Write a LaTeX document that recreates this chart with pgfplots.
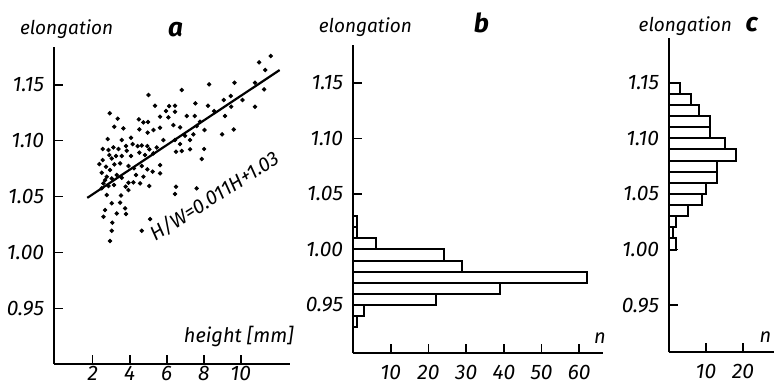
\documentclass[border=0pt]{standalone}
\usepackage{fontspec}
\setmainfont{Fira Sans}
\usepackage{pgfplots}
\pgfplotsset{compat=1.18}

\pgfplotsset{
  panel/.style={
    scale only axis,
    axis lines=left,
    axis line style={-, line width=1pt},
    tick align=inside,
    major tick length=4.5pt,
    every tick/.style={black, line width=0.8pt},
    tick label style={font=\fontsize{10.5}{12}\selectfont\itshape},
    yticklabel style={xshift=-1.5pt},
    clip=false,
    anchor=south west,
    ytick={0.95,1.00,1.05,1.10,1.15},
    yticklabels={0.95,1.00,1.05,1.10,1.15},
    every axis title/.style={font=\fontsize{13}{15}\selectfont\bfseries\itshape, anchor=base},
  },
  hbar/.style={xbar, bar width=0.01, bar shift=0pt, fill=white, draw=black, line width=1pt},
}

\begin{document}
\begin{tikzpicture}
\path[use as bounding box] (0,0) rectangle (387pt,192.5pt);
\clip (0,0) rectangle (387pt,192.5pt);

% ---------------- panel a ----------------
\begin{axis}[panel, at={(27pt,10.5pt)}, width=118pt, height=158.65pt,
  xmin=-0.09, xmax=12.66, ymin=0.9002, ymax=1.184,
  xtick={2,4,6,8,10}, xticklabels={2,4,6,8,10},
  xticklabel style={inner sep=1pt},
  xlabel={height [mm]}, ylabel={elongation}, title={a},
  every axis x label/.style={at={(axis description cs:1.045,0.069)}, anchor=base east, font=\fontsize{10}{12}\selectfont\itshape},
  every axis y label/.style={at={(axis description cs:-0.174,1.039)}, anchor=base west, font=\fontsize{9.5}{11}\selectfont\itshape},
  title style={at={(axis description cs:0.515,1.031)}},
]
\addplot[only marks, mark=*, mark size=0.9pt, black] coordinates {
(10.99,1.170) (11.62,1.1756) (11.32,1.1631) (10.77,1.1518) (11.26,1.1458)
(10.77,1.1303) (9.66,1.1518) (10.09,1.1363) (8.29,1.1503) (9.08,1.1363)
(9.46,1.1399) (9.48,1.1303) (8.99,1.1056) (9.62,1.1100) (9.15,1.1220)
(8.04,1.1095) (8.56,1.1264) (8.23,1.1312) (7.55,1.1333) (7.08,1.1220)
(7.51,1.1220) (7.80,1.1169) (7.62,1.1130) (6.81,1.1452) (5.01,1.1408)
(5.37,1.1312) (6.13,1.1309) (6.45,1.1312) (5.96,1.1264) (6.45,1.1258)
(5.64,1.1214) (6.09,1.1208) (4.99,1.1166) (4.74,1.1163) (4.49,1.1190)
(5.28,1.1095) (5.64,1.1115) (6.36,1.1139) (6.72,1.1118) (4.52,1.1100)
(4.97,1.1071) (7.44,1.1056) (6.99,1.1044) (7.26,1.1005) (6.45,1.1005)
(5.82,1.1005) (5.46,1.0939) (5.06,1.0922) (6.72,1.0969) (6.50,1.0901)
(7.26,1.0922) (8.02,1.0925) (7.89,1.0835) (6.81,1.0907) (5.28,1.0886)
(4.83,1.0871) (4.52,1.0892) (4.65,1.0957) (4.95,1.0951) (4.16,1.0969)
(4.43,1.0951) (3.80,1.0951) (4.07,1.1026) (3.57,1.1005) (2.81,1.1014)
(2.92,1.1244) (3.35,1.1196) (3.17,1.1124) (3.66,1.1109) (2.54,1.0925)
(2.85,1.0916) (3.12,1.0939) (3.39,1.0925) (2.90,1.0871) (3.26,1.0862)
(3.57,1.0862) (3.84,1.0910) (4.07,1.0862) (2.49,1.0713) (2.94,1.0737)
(3.17,1.0787) (2.72,1.0767) (3.48,1.0796) (3.93,1.0773) (4.23,1.0752)
(4.65,1.0773) (4.95,1.0743) (5.24,1.0722) (5.64,1.0707) (3.57,1.0668)
(3.93,1.0623) (3.15,1.0603) (2.85,1.0594) (2.58,1.0617) (3.78,1.0588)
(4.20,1.0626) (4.56,1.0617) (5.06,1.0594) (6.50,1.0588) (7.62,1.0573)
(2.76,1.0513) (3.53,1.0510) (3.93,1.0558) (6.45,1.0522) (3.03,1.0439)
(3.48,1.0445) (3.75,1.0394) (2.67,1.0379) (3.30,1.0349) (3.80,1.0343)
(5.10,1.0298) (4.65,1.0194) (2.58,1.0319) (3.06,1.0266) (3.03,1.0194)
(2.94,1.0102) (2.54,1.0826) (3.03,1.0841) (2.36,1.0790) (2.76,1.0677)
(3.03,1.0662) (3.30,1.0692) (2.67,1.0647) (2.49,1.0573) (5.64,1.0781)
(4.34,1.0692) (4.74,1.0677)
};
\addplot[black, line width=1.1pt] coordinates {(1.71,1.0488) (12.1,1.1631)};
\node[rotate=32.5, font=\fontsize{10}{12}\selectfont\itshape] at (axis cs:8.56,1.0504) {H/W=0.011H+1.03};
\end{axis}

% ---------------- panel b ----------------
\begin{axis}[panel, at={(176.5pt,15.85pt)}, width=125pt, height=154.15pt,
  xmin=0, xmax=66.3, ymin=0.9065, ymax=1.184,
  xtick={10,20,30,40,50,60}, xticklabels={10,20,30,40,50,60},
  xticklabel style={inner sep=1pt, yshift=-5pt},
  xlabel={n}, ylabel={elongation}, title={b},
  every axis x label/.style={at={(axis description cs:0.936,0.033)}, anchor=base west, font=\fontsize{10}{12}\selectfont\itshape},
  every axis y label/.style={at={(axis description cs:-0.165,1.039)}, anchor=base west, font=\fontsize{9.5}{11}\selectfont\itshape},
  title style={at={(axis description cs:0.514,1.039)}},
]
\addplot[hbar] coordinates {
(1,1.025) (1,1.015) (6,1.005) (24,0.995) (29,0.985)
(62,0.975) (39,0.965) (22,0.955) (3,0.945) (1,0.935)
};
\end{axis}

% ---------------- panel c ----------------
\begin{axis}[panel, at={(334.5pt,16.35pt)}, width=65.5pt, height=157pt,
  xmin=0, xmax=35.4, ymin=0.9076, ymax=1.19,
  xtick={10,20}, xticklabels={10,20},
  xticklabel style={inner sep=1pt, yshift=-5pt},
  xlabel={n}, ylabel={elongation}, title={c},
  every axis x label/.style={at={(axis description cs:0.79,0.03)}, anchor=base east, inner sep=0.5pt, font=\fontsize{10}{12}\selectfont\itshape},
  every axis y label/.style={at={(axis description cs:-0.285,1.021)}, anchor=base west, font=\fontsize{9.5}{11}\selectfont\itshape},
  title style={at={(axis description cs:0.631,1.021)}},
]
\addplot[hbar] coordinates {
(3,1.145) (6,1.135) (8,1.125) (11,1.115) (11,1.105)
(15,1.095) (18,1.085) (13,1.075) (13,1.065) (10,1.055)
(9,1.045) (5,1.035) (2,1.025) (1,1.015) (2,1.005)
};
\end{axis}
\end{tikzpicture}
\end{document}
